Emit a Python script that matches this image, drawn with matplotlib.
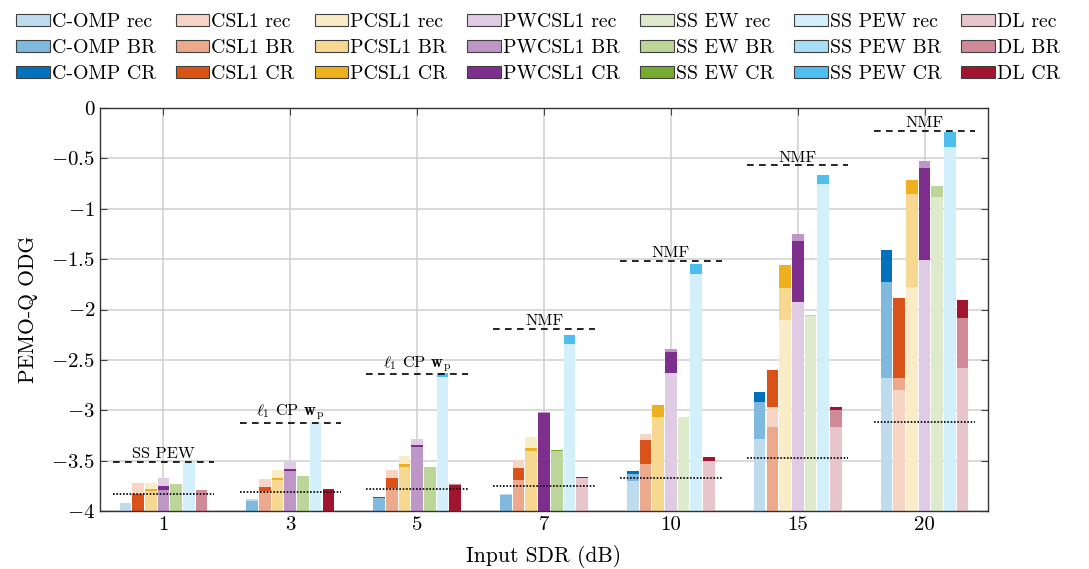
import matplotlib
matplotlib.use("Agg")
import matplotlib.pyplot as plt
from matplotlib.patches import Patch
import numpy as np

plt.rcParams["font.family"] = "serif"
plt.rcParams["font.serif"] = ["cmr10"]
plt.rcParams["mathtext.fontset"] = "cm"
plt.rcParams["axes.formatter.use_mathtext"] = True

SDR = ["1", "3", "5", "7", "10", "15", "20"]
METHODS = ["C-OMP", "CSL1", "PCSL1", "PWCSL1", "SS EW", "SS PEW", "DL"]
VARIANTS = ["rec", "BR", "CR"]

# PEMO-Q ODG, one row per method, one column per input SDR
# (-4 = at or below the bottom of the axis, not visible)
REC_ODG = [
    [-3.92, -3.885, -4.0, -3.835, -3.705, -3.287, -2.68],
    [-3.72, -3.685, -3.595, -3.496, -3.237, -2.968, -2.80],
    [-3.72, -3.595, -3.455, -3.267, -4.0, -2.10, -1.777],
    [-3.67, -3.51, -3.287, -4.0, -2.63, -1.93, -1.508],
    [-4.0, -4.0, -4.0, -4.0, -3.068, -2.06, -0.883],
    [-3.50, -3.12, -2.666, -2.34, -1.65, -0.754, -0.385],
    [-4.0, -4.0, -4.0, -3.67, -3.506, -3.167, -2.58],
]
BR_ODG = [
    [-4.0, -3.90, -3.875, -3.845, -3.635, -2.918, -1.727],
    [-4.0, -3.80, -3.77, -3.695, -3.536, -3.167, -2.68],
    [-3.80, -3.695, -3.56, -3.406, -3.068, -1.783, -0.852],
    [-3.795, -3.605, -3.367, -3.02, -2.397, -1.255, -0.524],
    [-3.73, -3.655, -3.566, -3.40, -4.0, -2.055, -0.773],
    [-4.0, -4.0, -4.0, -4.0, -4.0, -4.0, -4.0],
    [-3.79, -4.0, -3.735, -4.0, -4.0, -2.998, -2.085],
]
CR_ODG = [
    [-4.0, -4.0, -3.86, -4.0, -3.605, -2.82, -1.41],
    [-3.83, -3.765, -3.675, -3.575, -3.297, -2.60, -1.887],
    [-3.78, -3.67, -3.535, -3.377, -2.948, -1.554, -0.713],
    [-3.755, -3.58, -3.347, -3.03, -2.426, -1.325, -0.594],
    [-4.0, -4.0, -4.0, -3.39, -4.0, -4.0, -4.0],
    [-4.0, -4.0, -2.626, -2.25, -1.55, -0.667, -0.237],
    [-4.0, -3.785, -3.74, -3.665, -3.466, -2.968, -1.905],
]

# best competing method and the unprocessed input
BEST_ODG = [-3.51, -3.125, -2.645, -2.195, -1.517, -0.568, -0.226]
BEST_NAME = ["SS PEW", r"$\ell_1$ CP $\mathbf{w}_\mathrm{p}$",
             r"$\ell_1$ CP $\mathbf{w}_\mathrm{p}$", "NMF", "NMF", "NMF", "NMF"]
INPUT_ODG = [-3.83, -3.815, -3.78, -3.75, -3.675, -3.476, -3.118]

YTICKS = [0, -0.5, -1, -1.5, -2, -2.5, -3, -3.5, -4]
YTICK_LABELS = ["$0$", "$-0.5$", "$-1$", "$-1.5$", "$-2$", "$-2.5$", "$-3$", "$-3.5$", "$-4$"]

COLORS = [
    ["#bfdcef", "#80b9de", "#0072bd"],
    ["#f6d4c6", "#eca98c", "#d95319"],
    ["#fbecc8", "#f6d890", "#edb120"],
    ["#dfcbe3", "#bf97c7", "#7e2f8e"],
    ["#ddeacc", "#bbd698", "#77ac30"],
    ["#d3effb", "#a6def7", "#4dbeee"],
    ["#e8c4cb", "#d08a97", "#a2142f"],
]

YMIN = -4
BAR_STEP = 0.1
BAR_W = 0.092

fig = plt.figure(figsize=(10.89, 5.69), dpi=100)
ax = fig.add_axes([100 / 1089, 1 - 511 / 569, 888 / 1089, 403 / 569])

x = np.arange(len(SDR))
for m in range(len(METHODS)):
    xm = x + (m - 3) * BAR_STEP
    for g in range(len(SDR)):
        vals = [REC_ODG[m][g], BR_ODG[m][g], CR_ODG[m][g]]
        # tallest first so the shorter ones stay visible on top
        order = sorted(range(3), key=lambda k: -vals[k])
        for rank, k in enumerate(order):
            ax.bar(xm[g], vals[k] - YMIN, bottom=YMIN, width=BAR_W,
                   color=COLORS[m][k], linewidth=0, zorder=2 + rank * 0.1)

for g in range(len(SDR)):
    ax.plot([x[g] - 0.4, x[g] + 0.4], [BEST_ODG[g]] * 2, color="black",
            linestyle=(0, (4, 3.2)), linewidth=1.2, zorder=5)
    ax.plot([x[g] - 0.4, x[g] + 0.4], [INPUT_ODG[g]] * 2, color="black",
            linestyle=(0, (1, 1)), linewidth=1.2, zorder=5)
    ax.annotate(BEST_NAME[g], (x[g], BEST_ODG[g]), xytext=(0, 0.5),
                textcoords="offset points", ha="center", va="bottom",
                fontsize=11.8, zorder=6)

ax.set_xlim(-0.5, 6.5)
ax.set_ylim(YMIN, 0)
ax.set_xticks(x)
ax.set_xticklabels(SDR)
ax.set_yticks(YTICKS)
ax.set_yticklabels(YTICK_LABELS)
ax.tick_params(direction="in", length=5, width=0.8, labelsize=15,
               top=True, right=True, color="#444444")
ax.grid(True, color="#d0d0d0", linewidth=1.1, zorder=0)
ax.set_axisbelow(True)
for s in ax.spines.values():
    s.set_linewidth(1.0)
    s.set_color("#333333")
    s.set_zorder(7)

ax.set_xlabel("Input SDR (dB)", fontsize=15.5, labelpad=8)
ax.set_ylabel("PEMO-Q ODG", fontsize=15.5, labelpad=10)

handles = []
for m, name in enumerate(METHODS):
    for k, v in enumerate(VARIANTS):
        handles.append(Patch(facecolor=COLORS[m][k], edgecolor="#404040",
                             linewidth=0.8, label=f"{name} {v}"))
fig.legend(handles=handles, ncol=7, loc="upper left",
           bbox_to_anchor=(16 / 1089, 1 - 13 / 569), frameon=False,
           fontsize=14.3, handlelength=1.7, handleheight=0.55,
           handletextpad=0.1, columnspacing=1.0, labelspacing=0.42,
           borderpad=0, borderaxespad=0)

fig.savefig("out.png", dpi=100)
